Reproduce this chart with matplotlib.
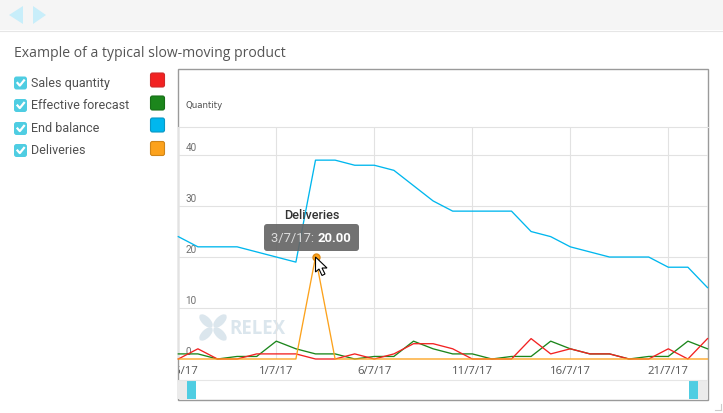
import matplotlib
matplotlib.use("Agg")
import matplotlib.pyplot as plt
from matplotlib.patches import Ellipse, FancyBboxPatch, Polygon, Rectangle

W, H = 723, 414

# days counted from 1/7/17
days = list(range(-5, 23))
sales = [0, 2, 0, 0, 1, 1, 1, 0, 0, 1, 0, 1, 3, 3, 2, 0, 0, 0, 4, 1, 2, 1, 1, 0, 0, 2, 0, 4]
forecast = [1, 1, 0, 0.5, 0.5, 3.5, 2, 1, 1, 0, 0.5, 0.5, 3.5, 2, 1, 1, 0, 0.5, 0.5, 3.5, 2, 1, 1, 0, 0.5, 0.5, 3.5, 2]
balance = [24, 22, 22, 22, 21, 20, 19, 39, 39, 38, 38, 37, 34, 31, 29, 29, 29, 29, 25, 24, 22, 21, 20, 20, 20, 18, 18, 14]
deliveries = [0, 0, 0, 0, 0, 0, 0, 20, 0, 0, 0, 0, 0, 0, 0, 0, 0, 0, 0, 0, 0, 0, 0, 0, 0, 0, 0, 0]

x_ticks = [-5, 0, 5, 10, 15, 20]
x_labels = ["26/6/17", "1/7/17", "6/7/17", "11/7/17", "16/7/17", "21/7/17"]
y_ticks = [0, 10, 20, 30, 40]

legend_names = ["Sales quantity", "Effective forecast", "End balance", "Deliveries"]
legend_colors = ["#f22222", "#1c861c", "#00b7ee", "#fca21c"]
legend_edges = ["#cf2a2a", "#176f17", "#0a97c4", "#cf8519"]

fig = plt.figure(figsize=(W / 100, H / 100), dpi=100, facecolor="white")

# page furniture is drawn in pixel coordinates
ui = fig.add_axes([0, 0, 1, 1])
ui.set_xlim(0, W)
ui.set_ylim(H, 0)
ui.axis("off")

ui.add_patch(Rectangle((0, 0), W, 31, fc="#f5f5f5", ec="none"))
ui.plot([0, W], [31.5, 31.5], color="#e6e6e6", lw=0.8)
ui.add_patch(Polygon([(9, 16), (23, 7), (23, 25)], fc="#c8eefa", ec="none"))
ui.add_patch(Polygon([(33, 7), (33, 25), (46, 16)], fc="#c8eefa", ec="none"))

ui.text(14, 53.5, "Example of a typical slow-moving product", family="Open Sans",
        fontsize=10.05, color="#555555", va="center")

box_y = [84, 106.5, 129.5, 151.5]
swatch_y = [81, 104, 126, 149.5]
for name, color, edge, by, sy in zip(legend_names, legend_colors, legend_edges, box_y, swatch_y):
    ui.add_patch(FancyBboxPatch((15, by - 5.5), 11, 11, boxstyle="round,pad=1,rounding_size=2.5",
                                fc="#4fcde2", ec="none"))
    ui.plot([17.5, 19.8, 24], [by, by + 2.6, by - 2.6], color="white", lw=1.6)
    ui.text(31, by - 0.5, name, family="Roboto", fontsize=9, color="#505050", va="center")
    ui.add_patch(FancyBboxPatch((151.5, sy - 6), 12, 12, boxstyle="round,pad=1,rounding_size=2",
                                fc=color, ec=edge, lw=0.8))

# outer chart frame and range selector
ui.add_patch(Rectangle((177.5, 69.5), 530, 331, fc="white", ec="#9a9a9a", lw=1.0))
ui.plot([178, 707], [380.5, 380.5], color="#e6e6e6", lw=0.8)
ui.add_patch(Rectangle((178, 381), 9, 19, fc="#ebebeb", ec="none"))
ui.add_patch(Rectangle((187, 381), 9, 19, fc="#4fcde2", ec="none"))
ui.add_patch(Rectangle((689, 381), 9, 19, fc="#4fcde2", ec="none"))
ui.add_patch(Rectangle((698, 381), 9, 19, fc="#ebebeb", ec="none"))
ui.plot([720.5, 720.5], [405, 411], color="#cccccc", lw=0.8)
ui.plot([715, 720.5], [411, 411], color="#cccccc", lw=0.8)
ui.text(185, 105.5, "Quantity", family="DejaVu Sans", fontsize=6.2, color="#505050", va="center")

# watermark
wm = "#dbe6ed"
for ex, ey, ang in [(206, 322, 45), (220, 322, -45), (206, 335, -45), (220, 335, 45)]:
    ui.add_patch(Ellipse((ex, ey), 17, 8.5, angle=ang, fc=wm, ec="none"))
ui.text(229, 329, "RELEX", family="Open Sans", fontsize=13.5, fontweight="bold", color=wm, va="center")

# chart area: left/right at first/last day, bottom at zero
left, right, top, bottom = 178.3, 707.5, 128.0, 360.0
ax = fig.add_axes([left / W, 1 - bottom / H, (right - left) / W, (bottom - top) / H])
ax.patch.set_alpha(0)
ax.set_xlim(-5, 22)
ax.set_ylim(0, 45.5)
for s in ax.spines.values():
    s.set_visible(False)
ax.spines["top"].set_visible(True)
ax.spines["top"].set_color("#e2e2e2")
ax.spines["top"].set_linewidth(0.8)

ax.set_xticks(x_ticks, x_labels, family="Open Sans", fontsize=8.2, color="#555555")
ax.set_yticks(y_ticks, [])
ax.tick_params(length=0)
ax.tick_params(axis="x", pad=4)
ax.grid(color="#e2e2e2", lw=0.8)
ax.set_axisbelow(True)

# the first date label is cut off by the frame
clip = Rectangle((179, 0), 530, H, transform=ui.transData)
first = ax.get_xticklabels()[0]
first.set_clip_path(clip)

for v in y_ticks:
    ax.annotate(str(v), (-5, v), xytext=(7, 3), textcoords="offset pixels", family="Roboto",
                fontsize=7.2, color="#707070", va="bottom")

ax.plot(days, balance, color="#00b7ee", lw=0.95, clip_on=False, zorder=3)
ax.plot(days, forecast, color="#1c861c", lw=0.95, clip_on=False, zorder=3)
ax.plot(days, sales, color="#f22222", lw=0.95, clip_on=False, zorder=3)
ax.plot(days, deliveries, color="#fca21c", lw=0.95, clip_on=False, zorder=4)
ax.plot([days[7]], [deliveries[7]], "o", color="#fca21c", mec="#e08a10", ms=5, zorder=5)

# tooltip and cursor on top of the lines
ov = fig.add_axes([0, 0, 1, 1])
ov.set_xlim(0, W)
ov.set_ylim(H, 0)
ov.axis("off")
ov.patch.set_alpha(0)
ov.text(312, 216, "Deliveries", family="Roboto", fontsize=9.1, fontweight="medium", color="#333333",
        ha="center", va="center")
ov.add_patch(FancyBboxPatch((266, 227), 91, 23, boxstyle="round,pad=2,rounding_size=3",
                            fc="#666666", ec="none", alpha=0.92))
t = ov.text(271, 238.5, "3/7/17: ", family="Roboto", fontsize=9.4, color="#dddddd", va="center")
ov.annotate("20.00", xy=(1, 0.5), xycoords=t, xytext=(0, 0), textcoords="offset points",
            family="Roboto", fontsize=9.4, fontweight="bold", color="white", va="center")
ov.add_patch(Polygon([(315.5, 258), (315.5, 273), (319, 270), (322, 276.5), (325, 275),
                      (322, 269), (327, 269)], fc="white", ec="black", lw=0.8, zorder=6))

fig.savefig("out.png", dpi=100)
